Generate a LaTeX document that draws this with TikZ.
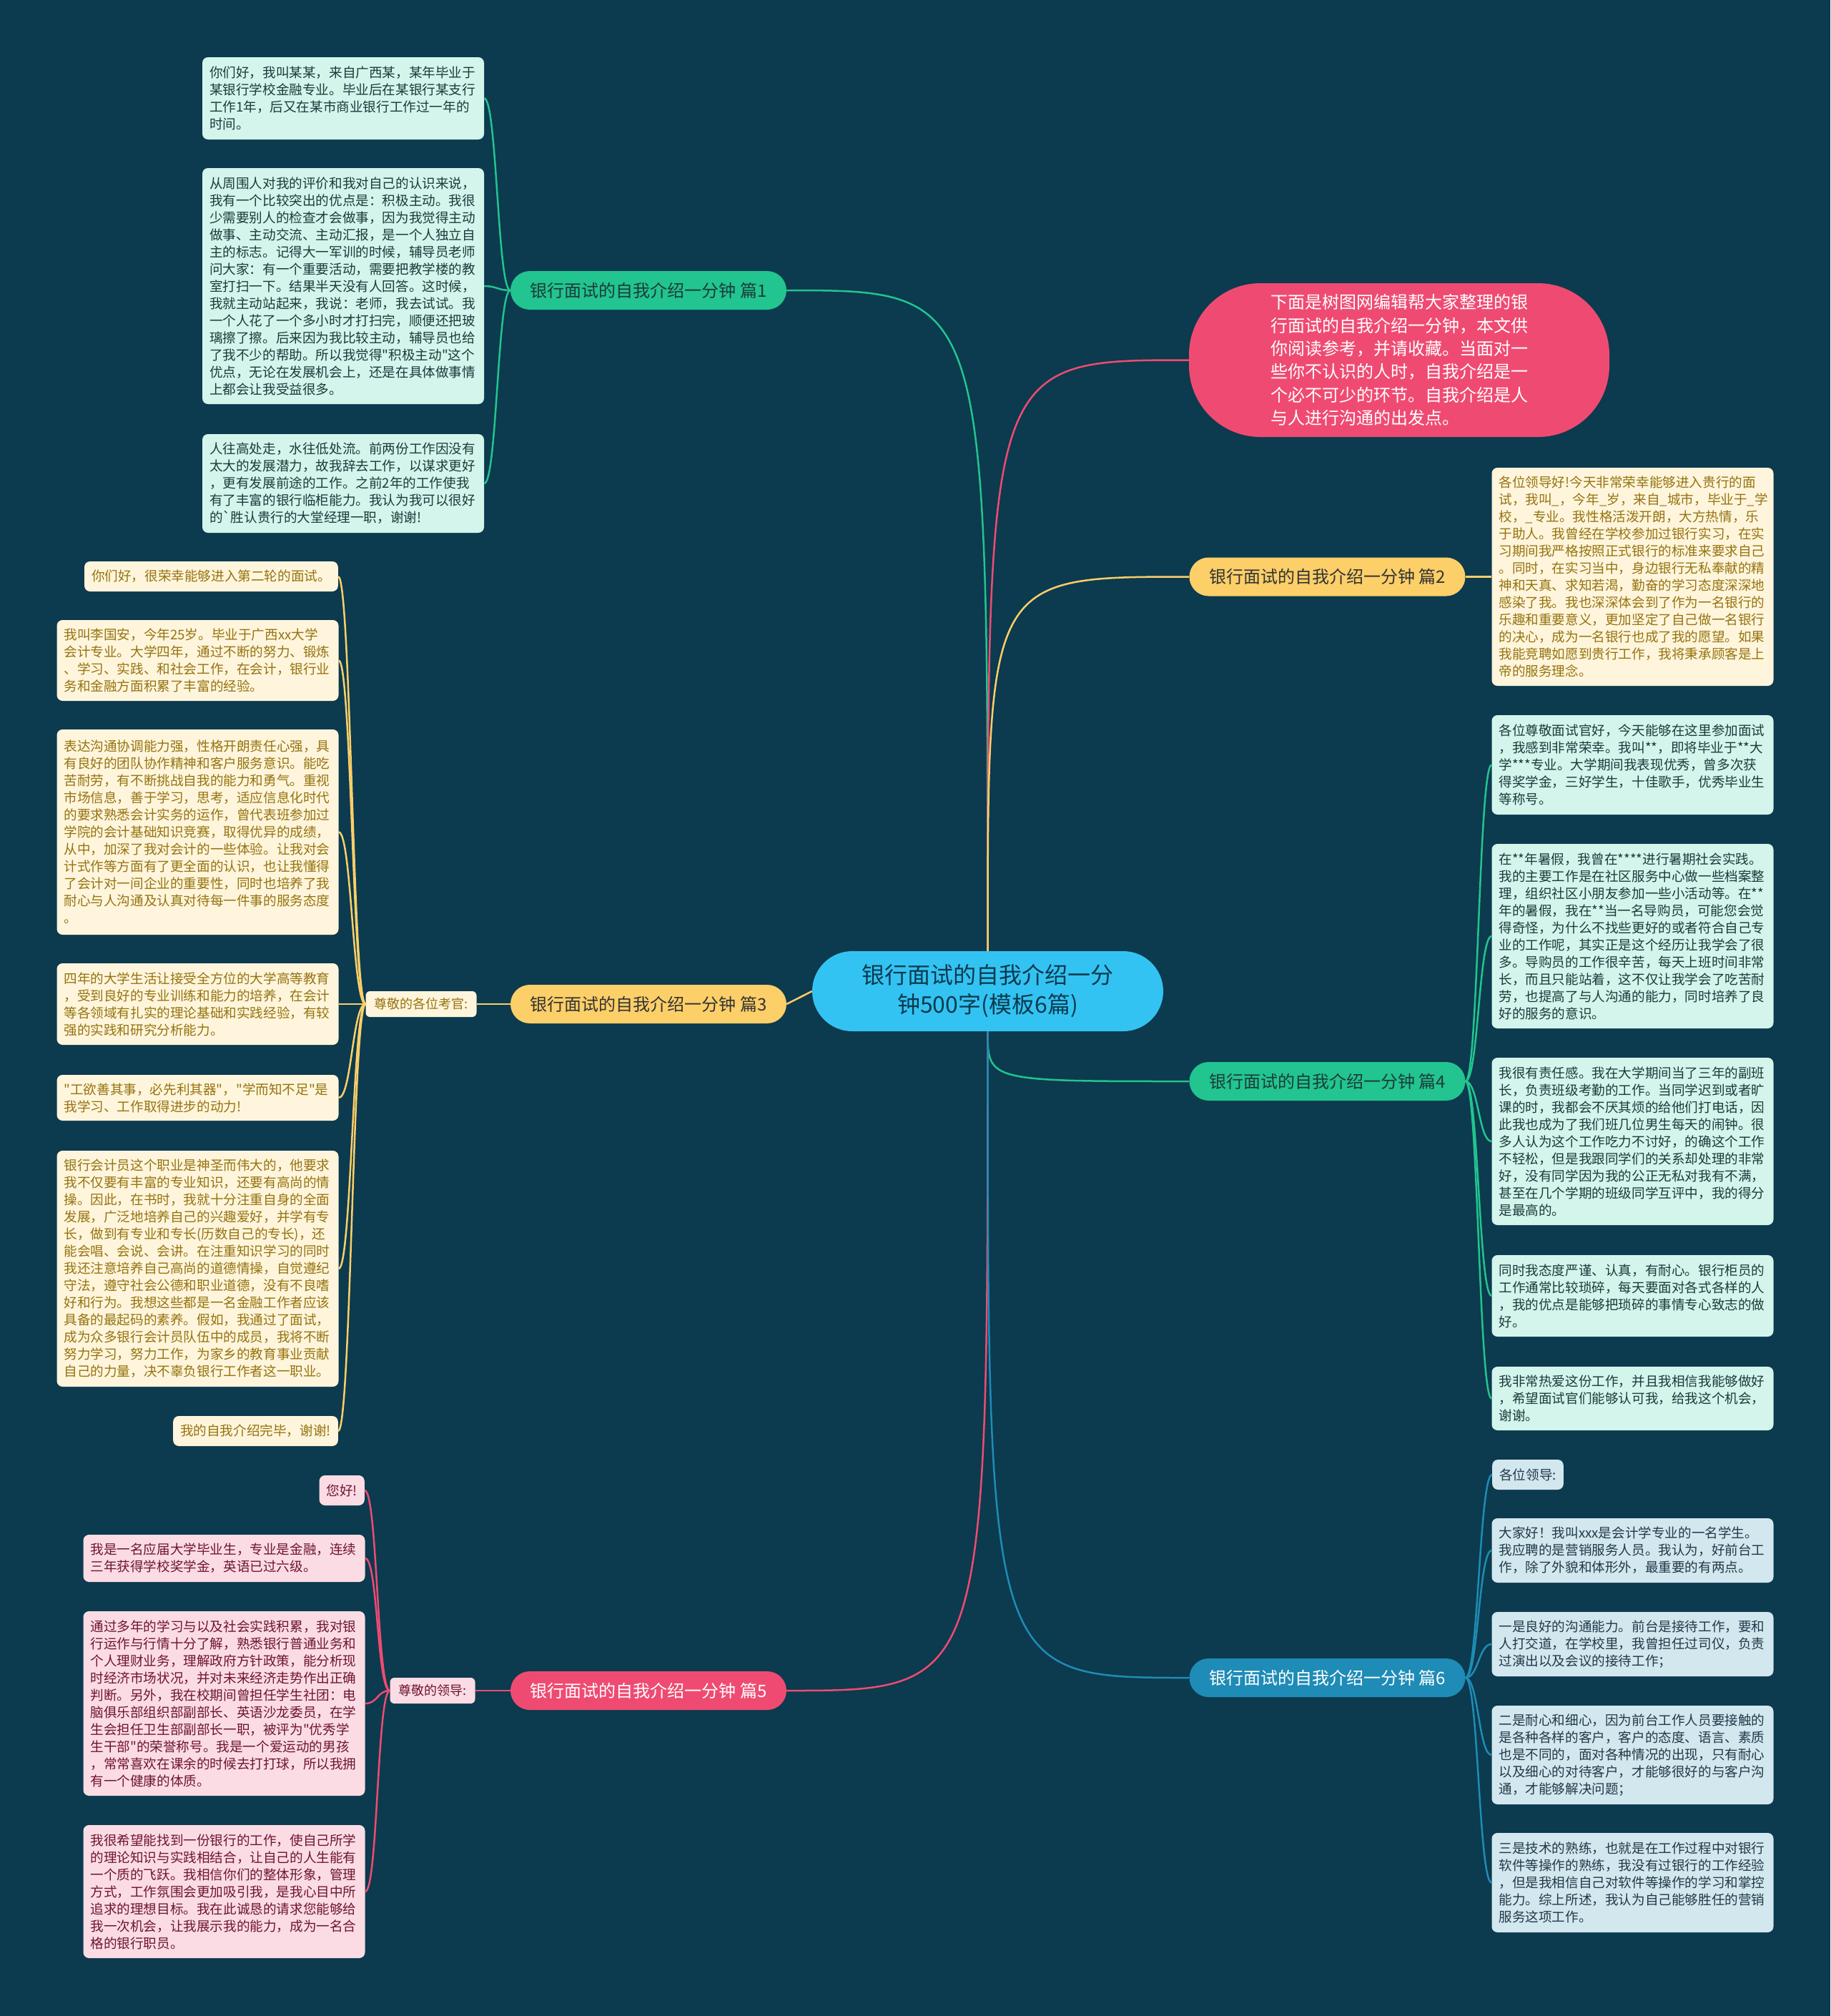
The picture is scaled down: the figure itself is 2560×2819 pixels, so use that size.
\documentclass[tikz,border=0pt]{standalone}
\usepackage{fontspec}
\newfontfamily\cjk{Noto Sans CJK SC}
\usetikzlibrary{arrows,shapes}
\definecolor{bgc}{HTML}{0C3A4E}
\definecolor{gline}{HTML}{22C48F}
\definecolor{yline}{HTML}{FCCF68}
\definecolor{pline}{HTML}{EF4B72}
\definecolor{bline}{HTML}{1E8CB6}
\definecolor{cenc}{HTML}{33C3F2}
\definecolor{mintf}{HTML}{D3F5EC}
\definecolor{mintt}{HTML}{1B3B3A}
\definecolor{creamf}{HTML}{FEF5DC}
\definecolor{creamt}{HTML}{96730F}
\definecolor{pinkf}{HTML}{FBDCE4}
\definecolor{pinkt}{HTML}{6E1433}
\definecolor{bluef}{HTML}{D3E7EF}
\definecolor{bluet}{HTML}{1F3A48}
\tikzstyle{leaf}=[rounded corners=8pt,text width=374pt,align=left,inner xsep=10pt,inner ysep=4pt,font=\fontsize{18.6}{24}\cjk]
\tikzstyle{sleaf}=[rounded corners=8pt,inner xsep=10pt,inner ysep=4pt,minimum height=42pt,font=\fontsize{18.6}{24}\cjk]
\tikzstyle{pill}=[rounded corners=27pt,minimum width=386pt,minimum height=54pt,font=\fontsize{24}{28}\cjk]
\tikzstyle{tsub}=[rounded corners=6pt,minimum height=36pt,inner xsep=12pt,font=\fontsize{18}{22}\cjk]
\tikzstyle{lk}=[line width=2.5pt]
\tikzstyle{lft}=[out=180,in=0,distance=18pt]
\tikzstyle{rgt}=[out=0,in=180,distance=18pt]

\begin{document}
\begin{tikzpicture}[x=1pt,y=-1pt]
\fill[bgc] (0,0) rectangle (2560,2819);
\useasboundingbox (0,0) rectangle (2560,2819);

% centre and branches
\node[fill=cenc,text=bgc,rounded corners=56pt,minimum width=491pt,minimum height=112pt,align=center,font=\fontsize{32}{41}\cjk] (cen) at (1381.5,1386) {银行面试的自我介绍一分\\钟500字(模板6篇)};
\node[fill=pline,text=white,rounded corners=100pt,minimum width=588pt,minimum height=215pt,align=left,font=\fontsize{24}{32.4}\cjk] (intro) at (1957,503.5) {下面是树图网编辑帮大家整理的银\\行面试的自我介绍一分钟，本文供\\你阅读参考，并请收藏。当面对一\\些你不认识的人时，自我介绍是一\\个必不可少的环节。自我介绍是人\\与人进行沟通的出发点。};
\node[pill,fill=gline,text=mintt] (p1) at (907,406) {银行面试的自我介绍一分钟 篇1};
\node[pill,fill=yline,text=black!80] (p2) at (1856.5,806.5) {银行面试的自我介绍一分钟 篇2};
\node[pill,fill=yline,text=black!80] (p3) at (907,1404) {银行面试的自我介绍一分钟 篇3};
\node[pill,fill=gline,text=mintt] (p4) at (1856.5,1512) {银行面试的自我介绍一分钟 篇4};
\node[pill,fill=pline,text=white] (p5) at (907,2364) {银行面试的自我介绍一分钟 篇5};
\node[pill,fill=bline,text=white] (p6) at (1856.5,2346) {银行面试的自我介绍一分钟 篇6};
\node[tsub,fill=creamf,text=creamt] (s3) at (589,1404) {尊敬的各位考官:};
\node[tsub,fill=pinkf,text=pinkt] (s5) at (605,2364) {尊敬的领导:};

% 篇1
\node[leaf,fill=mintf,text=mintt,minimum height=115pt] (l1a) at (480,137.5) {你们好，我叫某某，来自广西某，某年毕业于\\某银行学校金融专业。毕业后在某银行某支行\\工作1年，后又在某市商业银行工作过一年的\\时间。};
\node[leaf,fill=mintf,text=mintt,minimum height=330pt] (l1b) at (480,400) {从周围人对我的评价和我对自己的认识来说，\\我有一个比较突出的优点是：积极主动。我很\\少需要别人的检查才会做事，因为我觉得主动\\做事、主动交流、主动汇报，是一个人独立自\\主的标志。记得大一军训的时候，辅导员老师\\问大家：有一个重要活动，需要把教学楼的教\\室打扫一下。结果半天没有人回答。这时候，\\我就主动站起来，我说：老师，我去试试。我\\一个人花了一个多小时才打扫完，顺便还把玻\\璃擦了擦。后来因为我比较主动，辅导员也给\\了我不少的帮助。所以我觉得"积极主动"这个\\优点，无论在发展机会上，还是在具体做事情\\上都会让我受益很多。};
\node[leaf,fill=mintf,text=mintt,minimum height=138pt] (l1c) at (480,676) {人往高处走，水往低处流。前两份工作因没有\\太大的发展潜力，故我辞去工作，以谋求更好\\，更有发展前途的工作。之前2年的工作使我\\有了丰富的银行临柜能力。我认为我可以很好\\的`胜认贵行的大堂经理一职，谢谢!};

% 篇2
\node[leaf,fill=creamf,text=creamt,minimum height=305pt] (l2) at (2283.5,806.5) {各位领导好!今天非常荣幸能够进入贵行的面\\试，我叫\_，今年\_岁，来自\_城市，毕业于\_学\\校，\_专业。我性格活泼开朗，大方热情，乐\\于助人。我曾经在学校参加过银行实习，在实\\习期间我严格按照正式银行的标准来要求自己\\。同时，在实习当中，身边银行无私奉献的精\\神和天真、求知若渴，勤奋的学习态度深深地\\感染了我。我也深深体会到了作为一名银行的\\乐趣和重要意义，更加坚定了自己做一名银行\\的决心，成为一名银行也成了我的愿望。如果\\我能竞聘如愿到贵行工作，我将秉承顾客是上\\帝的服务理念。};

% 篇3
\node[sleaf,fill=creamf,text=creamt,anchor=east] (l3a) at (473,806) {你们好，很荣幸能够进入第二轮的面试。};
\node[leaf,fill=creamf,text=creamt,minimum height=113pt] (l3b) at (276.5,923.5) {我叫李国安，今年25岁。毕业于广西xx大学\\会计专业。大学四年，通过不断的努力、锻炼\\、学习、实践、和社会工作，在会计，银行业\\务和金融方面积累了丰富的经验。};
\node[leaf,fill=creamf,text=creamt,minimum height=287pt] (l3c) at (276.5,1163.5) {表达沟通协调能力强，性格开朗责任心强，具\\有良好的团队协作精神和客户服务意识。能吃\\苦耐劳，有不断挑战自我的能力和勇气。重视\\市场信息，善于学习，思考，适应信息化时代\\的要求熟悉会计实务的运作，曾代表班参加过\\学院的会计基础知识竞赛，取得优异的成绩，\\从中，加深了我对会计的一些体验。让我对会\\计式作等方面有了更全面的认识，也让我懂得\\了会计对一间企业的重要性，同时也培养了我\\耐心与人沟通及认真对待每一件事的服务态度\\。};
\node[leaf,fill=creamf,text=creamt,minimum height=114pt] (l3d) at (276.5,1404) {四年的大学生活让接受全方位的大学高等教育\\，受到良好的专业训练和能力的培养，在会计\\等各领域有扎实的理论基础和实践经验，有较\\强的实践和研究分析能力。};
\node[leaf,fill=creamf,text=creamt,minimum height=64pt] (l3e) at (276.5,1535) {"工欲善其事，必先利其器"，"学而知不足"是\\我学习、工作取得进步的动力!};
\node[leaf,fill=creamf,text=creamt,minimum height=330pt] (l3f) at (276.5,1774) {银行会计员这个职业是神圣而伟大的，他要求\\我不仅要有丰富的专业知识，还要有高尚的情\\操。因此，在书时，我就十分注重自身的全面\\发展，广泛地培养自己的兴趣爱好，并学有专\\长，做到有专业和专长(历数自己的专长)，还\\能会唱、会说、会讲。在注重知识学习的同时\\我还注意培养自己高尚的道德情操，自觉遵纪\\守法，遵守社会公德和职业道德，没有不良嗜\\好和行为。我想这些都是一名金融工作者应该\\具备的最起码的素养。假如，我通过了面试，\\成为众多银行会计员队伍中的成员，我将不断\\努力学习，努力工作，为家乡的教育事业贡献\\自己的力量，决不辜负银行工作者这一职业。};
\node[sleaf,fill=creamf,text=creamt,anchor=east] (l3g) at (473,2001) {我的自我介绍完毕，谢谢!};

% 篇4
\node[leaf,fill=mintf,text=mintt,minimum height=139pt] (l4a) at (2283.5,1069.5) {各位尊敬面试官好，今天能够在这里参加面试\\，我感到非常荣幸。我叫**，即将毕业于**大\\学***专业。大学期间我表现优秀，曾多次获\\得奖学金，三好学生，十佳歌手，优秀毕业生\\等称号。};
\node[leaf,fill=mintf,text=mintt,minimum height=258pt] (l4b) at (2283.5,1309) {在**年暑假，我曾在****进行暑期社会实践。\\我的主要工作是在社区服务中心做一些档案整\\理，组织社区小朋友参加一些小活动等。在**\\年的暑假，我在**当一名导购员，可能您会觉\\得奇怪，为什么不找些更好的或者符合自己专\\业的工作呢，其实正是这个经历让我学会了很\\多。导购员的工作很辛苦，每天上班时间非常\\长，而且只能站着，这不仅让我学会了吃苦耐\\劳，也提高了与人沟通的能力，同时培养了良\\好的服务的意识。};
\node[leaf,fill=mintf,text=mintt,minimum height=234pt] (l4c) at (2283.5,1596) {我很有责任感。我在大学期间当了三年的副班\\长，负责班级考勤的工作。当同学迟到或者旷\\课的时，我都会不厌其烦的给他们打电话，因\\此我也成为了我们班几位男生每天的闹钟。很\\多人认为这个工作吃力不讨好，的确这个工作\\不轻松，但是我跟同学们的关系却处理的非常\\好，没有同学因为我的公正无私对我有不满，\\甚至在几个学期的班级同学互评中，我的得分\\是最高的。};
\node[leaf,fill=mintf,text=mintt,minimum height=114pt] (l4d) at (2283.5,1812) {同时我态度严谨、认真，有耐心。银行柜员的\\工作通常比较琐碎，每天要面对各式各样的人\\，我的优点是能够把琐碎的事情专心致志的做\\好。};
\node[leaf,fill=mintf,text=mintt,minimum height=89pt] (l4e) at (2283.5,1955.5) {我非常热爱这份工作，并且我相信我能够做好\\，希望面试官们能够认可我，给我这个机会，\\谢谢。};

% 篇5
\node[sleaf,fill=pinkf,text=pinkt,anchor=east] (l5a) at (510,2084) {您好!};
\node[leaf,fill=pinkf,text=pinkt,minimum height=66pt] (l5b) at (313.5,2179) {我是一名应届大学毕业生，专业是金融，连续\\三年获得学校奖学金，英语已过六级。};
\node[leaf,fill=pinkf,text=pinkt,minimum height=258pt] (l5c) at (313.5,2382) {通过多年的学习与以及社会实践积累，我对银\\行运作与行情十分了解，熟悉银行普通业务和\\个人理财业务，理解政府方针政策，能分析现\\时经济市场状况，并对未来经济走势作出正确\\判断。另外，我在校期间曾担任学生社团：电\\脑俱乐部组织部副部长、英语沙龙委员，在学\\生会担任卫生部副部长一职，被评为"优秀学\\生干部"的荣誉称号。我是一个爱运动的男孩\\，常常喜欢在课余的时候去打打球，所以我拥\\有一个健康的体质。};
\node[leaf,fill=pinkf,text=pinkt,minimum height=186pt] (l5d) at (313.5,2645) {我很希望能找到一份银行的工作，使自己所学\\的理论知识与实践相结合，让自己的人生能有\\一个质的飞跃。我相信你们的整体形象，管理\\方式，工作氛围会更加吸引我，是我心目中所\\追求的理想目标。我在此诚恳的请求您能够给\\我一次机会，让我展示我的能力，成为一名合\\格的银行职员。};

% 篇6
\node[sleaf,fill=bluef,text=bluet,anchor=west] (l6a) at (2087,2062) {各位领导:};
\node[leaf,fill=bluef,text=bluet,minimum height=90pt] (l6b) at (2283.5,2168) {大家好！我叫xxx是会计学专业的一名学生。\\我应聘的是营销服务人员。我认为，好前台工\\作，除了外貌和体形外，最重要的有两点。};
\node[leaf,fill=bluef,text=bluet,minimum height=90pt] (l6c) at (2283.5,2299) {一是良好的沟通能力。前台是接待工作，要和\\人打交道，在学校里，我曾担任过司仪，负责\\过演出以及会议的接待工作；};
\node[leaf,fill=bluef,text=bluet,minimum height=138pt] (l6d) at (2283.5,2454) {二是耐心和细心，因为前台工作人员要接触的\\是各种各样的客户，客户的态度、语言、素质\\也是不同的，面对各种情况的出现，只有耐心\\以及细心的对待客户，才能够很好的与客户沟\\通，才能够解决问题；};
\node[leaf,fill=bluef,text=bluet,minimum height=139pt] (l6e) at (2283.5,2632.5) {三是技术的熟练，也就是在工作过程中对银行\\软件等操作的熟练，我没有过银行的工作经验\\，但是我相信自己对软件等操作的学习和掌控\\能力。综上所述，我认为自己能够胜任的营销\\服务这项工作。};

% links from the centre
\draw[lk,gline] (cen.north) .. controls (cen.north |- p1.east) .. (p1.east);
\draw[lk,pline] (cen.north) .. controls (cen.north |- intro.west) .. (intro.west);
\draw[lk,yline] (cen.north) .. controls (cen.north |- p2.west) .. (p2.west);
\draw[lk,yline] (cen.west) -- (p3.east);
\draw[lk,gline] (cen.south) .. controls (cen.south |- p4.west) .. (p4.west);
\draw[lk,pline] (cen.south) .. controls (cen.south |- p5.east) .. (p5.east);
\draw[lk,bline] (cen.south) .. controls (cen.south |- p6.west) .. (p6.west);

% links to the leaves
\draw[lk,gline] (p1.west) to[lft] (l1a.east);\draw[lk,gline] (p1.west) to[lft] (l1b.east);\draw[lk,gline] (p1.west) to[lft] (l1c.east);
\draw[lk,yline] (p2.east) -- (l2.west);
\draw[lk,yline] (p3.west) -- (s3.east);
\draw[lk,yline] (s3.west) to[lft] (l3a.east);\draw[lk,yline] (s3.west) to[lft] (l3b.east);\draw[lk,yline] (s3.west) to[lft] (l3c.east);
\draw[lk,yline] (s3.west) to[lft] (l3d.east);\draw[lk,yline] (s3.west) to[lft] (l3e.east);\draw[lk,yline] (s3.west) to[lft] (l3f.east);
\draw[lk,yline] (s3.west) to[lft] (l3g.east);
\draw[lk,gline] (p4.east) to[rgt] (l4a.west);\draw[lk,gline] (p4.east) to[rgt] (l4b.west);\draw[lk,gline] (p4.east) to[rgt] (l4c.west);
\draw[lk,gline] (p4.east) to[rgt] (l4d.west);\draw[lk,gline] (p4.east) to[rgt] (l4e.west);
\draw[lk,pline] (p5.west) -- (s5.east);
\draw[lk,pline] (s5.west) to[lft] (l5a.east);\draw[lk,pline] (s5.west) to[lft] (l5b.east);
\draw[lk,pline] (s5.west) to[lft] (l5c.east);\draw[lk,pline] (s5.west) to[lft] (l5d.east);
\draw[lk,bline] (p6.east) to[rgt] (l6a.west);\draw[lk,bline] (p6.east) to[rgt] (l6b.west);\draw[lk,bline] (p6.east) to[rgt] (l6c.west);
\draw[lk,bline] (p6.east) to[rgt] (l6d.west);\draw[lk,bline] (p6.east) to[rgt] (l6e.west);
\end{tikzpicture}
\end{document}
